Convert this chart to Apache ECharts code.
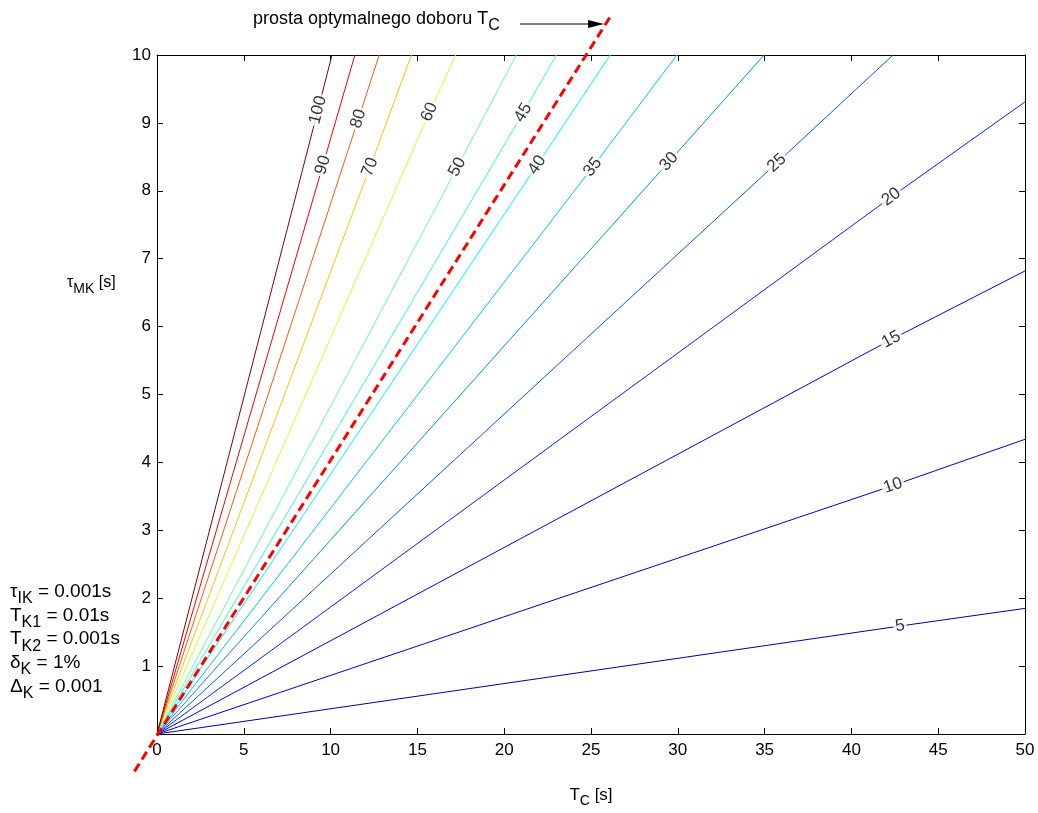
<!DOCTYPE html>
<html>
<head>
<meta charset="utf-8">
<script src="https://cdn.jsdelivr.net/npm/echarts@6/dist/echarts.min.js"></script>
<style>
  html, body { margin: 0; background: #fff; }
  #chart { width: 1038px; height: 813px; }
</style>
</head>
<body>
<div id="chart"></div>
<script>
// contour levels and where each line leaves the plot / where its label sits
const levels   = [5, 10, 15, 20, 25, 30, 35, 40, 45, 50, 60, 70, 80, 90, 100];
const endTc    = [50, 50, 50, 50, 42.4, 34.97, 29.95, 26.1, 23.0, 20.7, 17.2, 14.66, 12.8, 11.4, 10.08];
const endTau   = [1.85, 4.34, 6.82, 9.31, 10, 10, 10, 10, 10, 10, 10, 10, 10, 10, 10];
const labelTc  = [42.8, 42.4, 42.3, 42.3, 35.7, 29.5, 25.1, 21.9, 21.1, 17.3, 15.7, 12.27, 11.6, 9.56, 9.27];
const labelTau = [1.59, 3.66, 5.81, 7.91, 8.41, 8.43, 8.35, 8.38, 9.15, 8.35, 9.16, 8.35, 9.06, 8.38, 9.19];

// "prosta optymalnego doboru Tc" (optimal line)
const optTc  = [-1.3, 26.2];
const optTau = [-0.55, 10.6];

const xTicks = [0, 50, 5];   // min, max, step
const yTicks = [0, 10, 1];

// jet colours for the levels
const levelColors = ['#0000a0', '#0000c0', '#0000eb', '#0021ff', '#0057ff', '#008cff', '#00c2ff',
  '#00f7ff', '#2effd1', '#63ff9c', '#d1ff2e', '#ffc200', '#ff5700', '#eb0000', '#800000'];

const FONT = 'Liberation Sans, Arial, sans-serif';
const chart = echarts.init(document.getElementById('chart'));

const axisCommon = {
  axisLine: { onZero: false, lineStyle: { color: '#000', width: 1 } },
  axisTick: { inside: true, length: 6, lineStyle: { color: '#000' } },
  splitLine: { show: false }
};

function rich(main, sub) {
  return {
    a: { fontSize: main, fontFamily: FONT, color: '#000' },
    s: { fontSize: sub, fontFamily: FONT, color: '#000', padding: [Math.round(main * 0.72), 0, 0, 0] }
  };
}

function buildOption(angles, optPx) {
  const series = levels.map((lv, i) => ({
    type: 'line',
    name: String(lv),
    data: [[0, 0], [labelTc[i], labelTau[i]], [endTc[i], endTau[i]]],
    symbol: 'none',
    lineStyle: { width: 1, color: levelColors[i] },
    z: 2
  }));
  series.push({
    type: 'scatter',
    name: 'labels',
    symbolSize: 1,
    itemStyle: { color: 'transparent' },
    data: levels.map((lv, i) => ({
      value: [labelTc[i], labelTau[i]],
      label: { formatter: String(lv), rotate: angles ? angles[i] : 0 }
    })),
    label: {
      show: true, position: 'inside', color: '#000', fontSize: 17, fontFamily: FONT,
      backgroundColor: '#fff', padding: [0, 2]
    },
    z: 3
  });

  const paramLines = [
    '{a|τ}{s|IK}{a| = 0.001s}',
    '{a|T}{s|K1}{a| = 0.01s}',
    '{a|T}{s|K2}{a| = 0.001s}',
    '{a|δ}{s|K}{a| = 1%}',
    '{a|Δ}{s|K}{a| = 0.001}'
  ];

  const graphic = [
    { type: 'text', left: 253, top: 10,
      style: { text: '{a|prosta optymalnego doboru T}{s|C}', rich: rich(18, 16) } },
    { type: 'line', shape: { x1: 520, y1: 24, x2: 590, y2: 24 }, style: { stroke: '#000', lineWidth: 1 } },
    { type: 'polygon', shape: { points: [[588, 20], [604, 24], [588, 28]] }, style: { fill: '#000' } },
    { type: 'text', left: 67, top: 275,
      style: { text: '{a|τ}{s|MK}{a| [s]}', rich: rich(16, 14) } }
  ].concat(paramLines.map((t, i) => ({
    type: 'text', left: 10, top: 582 + i * 23.8,
    style: { text: t, rich: rich(19, 16) }
  })));
  if (optPx) {
    // dashed optimal line, positioned through the grid's own scale (may run outside the box)
    graphic.push({
      type: 'line', z: 10,
      shape: { x1: optPx[0][0], y1: optPx[0][1], x2: optPx[1][0], y2: optPx[1][1] },
      style: { stroke: '#ff0000', lineWidth: 3, lineDash: [9, 5] }
    });
  }

  return {
    animation: false,
    backgroundColor: '#fff',
    grid: { left: 157, right: 13, top: 55, bottom: 78 },
    xAxis: [
      Object.assign({
        type: 'value', min: xTicks[0], max: xTicks[1], interval: xTicks[2], position: 'bottom',
        axisLabel: { color: '#000', fontSize: 17, fontFamily: FONT, margin: 8 },
        name: '{a|T}{s|C}{a| [s]}', nameLocation: 'middle', nameGap: 48,
        nameTextStyle: { rich: rich(17, 14) }
      }, axisCommon),
      Object.assign({
        type: 'value', min: xTicks[0], max: xTicks[1], interval: xTicks[2], position: 'top',
        axisLabel: { show: false }
      }, axisCommon)
    ],
    yAxis: [
      Object.assign({
        type: 'value', min: yTicks[0], max: yTicks[1], interval: yTicks[2], position: 'left',
        axisLabel: { color: '#000', fontSize: 17, fontFamily: FONT, margin: 6,
          formatter: v => v === 0 ? '' : String(v) }
      }, axisCommon),
      Object.assign({
        type: 'value', min: yTicks[0], max: yTicks[1], interval: yTicks[2], position: 'right',
        axisLabel: { show: false }
      }, axisCommon)
    ],
    graphic,
    series
  };
}

chart.setOption(buildOption(null, null));

// rotate the contour labels along their lines, and place the optimal line
const toPx = p => chart.convertToPixel({ gridIndex: 0 }, p);
const o = toPx([0, 0]);
const angles = levels.map((lv, i) => {
  const p = toPx([labelTc[i], labelTau[i]]);
  return Math.atan2(o[1] - p[1], p[0] - o[0]) * 180 / Math.PI;
});
const optPx = [toPx([optTc[0], optTau[0]]), toPx([optTc[1], optTau[1]])];
chart.setOption(buildOption(angles, optPx));
</script>
</body>
</html>
